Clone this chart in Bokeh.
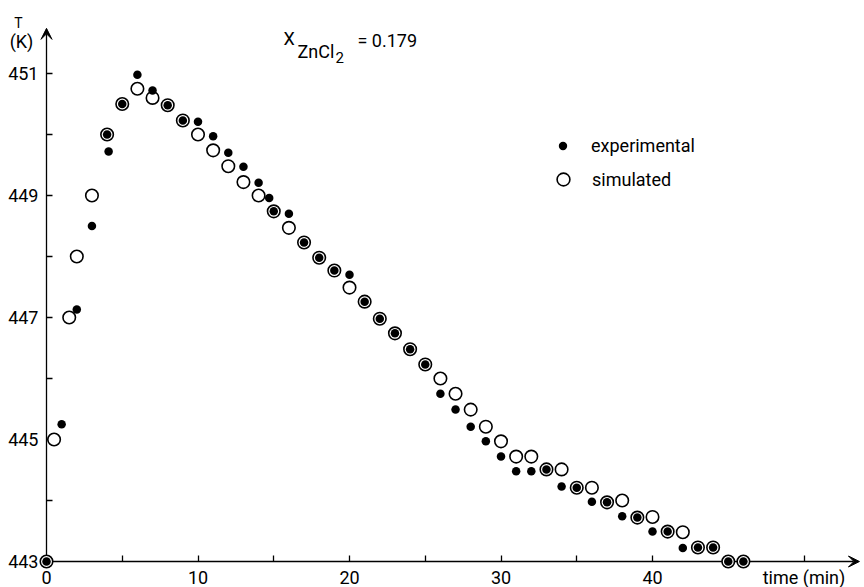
from bokeh.plotting import figure
from bokeh.models import (Range1d, LinearAxis, FixedTicker, Arrow, VeeHead, Label,
                          Legend, LegendItem)
from bokeh.embed import file_html
from bokeh.resources import INLINE

# ---------------- data ----------------
exp_time = [0, 1, 2, 3, 4, 4.1, 5, 6, 7, 8, 9, 10, 11, 12, 13, 14, 14.7, 15, 16, 17,
            18, 19, 20, 21, 22, 23, 24, 25, 26, 27, 28, 29, 30, 31, 32, 33, 34, 35,
            36, 37, 38, 39, 40, 41, 42, 43, 44, 45, 46]
exp_temp = [443.0, 445.25, 447.13, 448.5, 450.0, 449.72, 450.5, 450.98, 450.72, 450.48,
            450.23, 450.21, 449.97, 449.7, 449.47, 449.21, 448.96, 448.74, 448.7, 448.23,
            447.98, 447.77, 447.7, 447.26, 446.98, 446.74, 446.48, 446.23, 445.75, 445.49,
            445.21, 444.97, 444.72, 444.48, 444.48, 444.51, 444.23, 444.21, 443.98, 443.97,
            443.74, 443.72, 443.49, 443.49, 443.22, 443.23, 443.23, 443.0, 443.0]

sim_time = [0, 0.5, 1.5, 2, 3, 4, 5, 6, 7, 8, 9, 10, 11, 12, 13, 14, 15, 16, 17, 18,
            19, 20, 21, 22, 23, 24, 25, 26, 27, 28, 29, 30, 31, 32, 33, 34, 35, 36, 37,
            38, 39, 40, 41, 42, 43, 44, 45, 46]
sim_temp = [443.0, 445.0, 447.0, 448.0, 449.0, 450.0, 450.5, 450.75, 450.6, 450.48,
            450.23, 450.0, 449.74, 449.48, 449.22, 449.0, 448.74, 448.47, 448.23, 447.98,
            447.77, 447.49, 447.26, 446.98, 446.74, 446.48, 446.23, 446.0, 445.75, 445.49,
            445.21, 444.97, 444.72, 444.72, 444.51, 444.51, 444.21, 444.21, 443.97, 444.0,
            443.72, 443.73, 443.49, 443.48, 443.23, 443.23, 443.0, 443.0]

y_ticks = [443, 445, 447, 449, 451]
y_minor_ticks = [444, 446, 448, 450]
x_ticks = [0, 10, 20, 30, 40, 50]
x_minor_ticks = [5, 15, 25, 35, 45]
x_tick_labels = {0: "0", 10: "10", 20: "20", 30: "30", 40: "40", 50: "time (min)"}

FONT = "Roboto"
W, H = 864, 587
PX_X = 15.15      # pixels per minute
PX_Y = 61.0       # pixels per kelvin
X0_PX = 46        # canvas x of t = 0
Y0_PX = 561       # canvas y of T = 443
X_START = -X0_PX / PX_X
X_END = X_START + W / PX_X
Y_START = 443 - (H - Y0_PX) / PX_Y
Y_END = 443 + Y0_PX / PX_Y
X_TIP = 53.66     # tip of the time axis arrow
Y_TOP = 451.74    # tip of the temperature axis arrow

p = figure(width=W, height=H,
           x_range=Range1d(X_START, X_END), y_range=Range1d(Y_START, Y_END),
           x_axis_type=None, y_axis_type=None,
           output_backend="svg", toolbar_location=None,
           min_border_left=0, min_border_right=0, min_border_top=0, min_border_bottom=0,
           outline_line_color=None, background_fill_color="white",
           border_fill_color="white")
p.grid.visible = False

tick_style = dict(axis_line_color=None,
                  major_tick_in=6, major_tick_out=0, minor_tick_in=6, minor_tick_out=0,
                  major_tick_line_width=1.3, minor_tick_line_width=1.3,
                  major_tick_line_color="black", minor_tick_line_color="black",
                  major_label_text_font=FONT, major_label_text_font_size="18px",
                  major_label_text_color="black")

yaxis = LinearAxis(ticker=FixedTicker(ticks=y_ticks, minor_ticks=y_minor_ticks),
                   fixed_location=0, major_label_standoff=8, **tick_style)
p.add_layout(yaxis, "left")

xaxis = LinearAxis(ticker=FixedTicker(ticks=x_ticks, minor_ticks=x_minor_ticks),
                   fixed_location=443, major_label_overrides=x_tick_labels,
                   major_label_standoff=5, **tick_style)
p.add_layout(xaxis, "below")

# axis lines with arrow heads
p.add_layout(Arrow(end=VeeHead(size=11, fill_color="black", line_color="black", line_width=1),
                   x_start=0, y_start=443, x_end=X_TIP, y_end=443,
                   line_width=1.3, line_color="black"))
p.add_layout(Arrow(end=VeeHead(size=11, fill_color="black", line_color="black", line_width=1),
                   x_start=0, y_start=443, x_end=0, y_end=Y_TOP,
                   line_width=1.3, line_color="black"))

r_sim = p.scatter(sim_time, sim_temp, marker="circle", size=12.5, fill_color="white",
                  line_color="black", line_width=1.6, level="overlay")
r_exp = p.scatter(exp_time, exp_temp, marker="circle", size=8.5, fill_color="black",
                  line_color=None, level="overlay")

common_leg = dict(padding=0, margin=0, spacing=0, border_line_color=None,
                  background_fill_alpha=0, label_text_font=FONT,
                  label_text_font_size="18px", label_text_color="black")
leg_exp = Legend(items=[LegendItem(label="experimental", renderers=[r_exp])],
                 location=(552, 431), glyph_width=21, glyph_height=21,
                 label_standoff=18, label_height=21, **common_leg)
leg_sim = Legend(items=[LegendItem(label="simulated", renderers=[r_sim])],
                 location=(547, 392), glyph_width=32, glyph_height=32,
                 label_standoff=13, label_height=21, **common_leg)
p.add_layout(leg_exp)
p.add_layout(leg_sim)

# texts
def lab(text, x, y, size="18px", align="left"):
    p.add_layout(Label(x=x, y=y, text=text, text_font=FONT, text_font_size=size,
                       text_align=align, text_baseline="alphabetic", text_color="black"))

lab("T", -1.85, 451.83, size="14px", align="center")
lab("(K)", -1.65, 451.53, size="18px", align="center")
lab("X", 15.64, 451.57, size="18px")
lab("ZnCl", 16.57, 451.36, size="18px")
lab("2", 19.08, 451.26, size="15px")
lab("= 0.179", 20.53, 451.54, size="18px")

open("out.html", "w").write(file_html(p, INLINE))
